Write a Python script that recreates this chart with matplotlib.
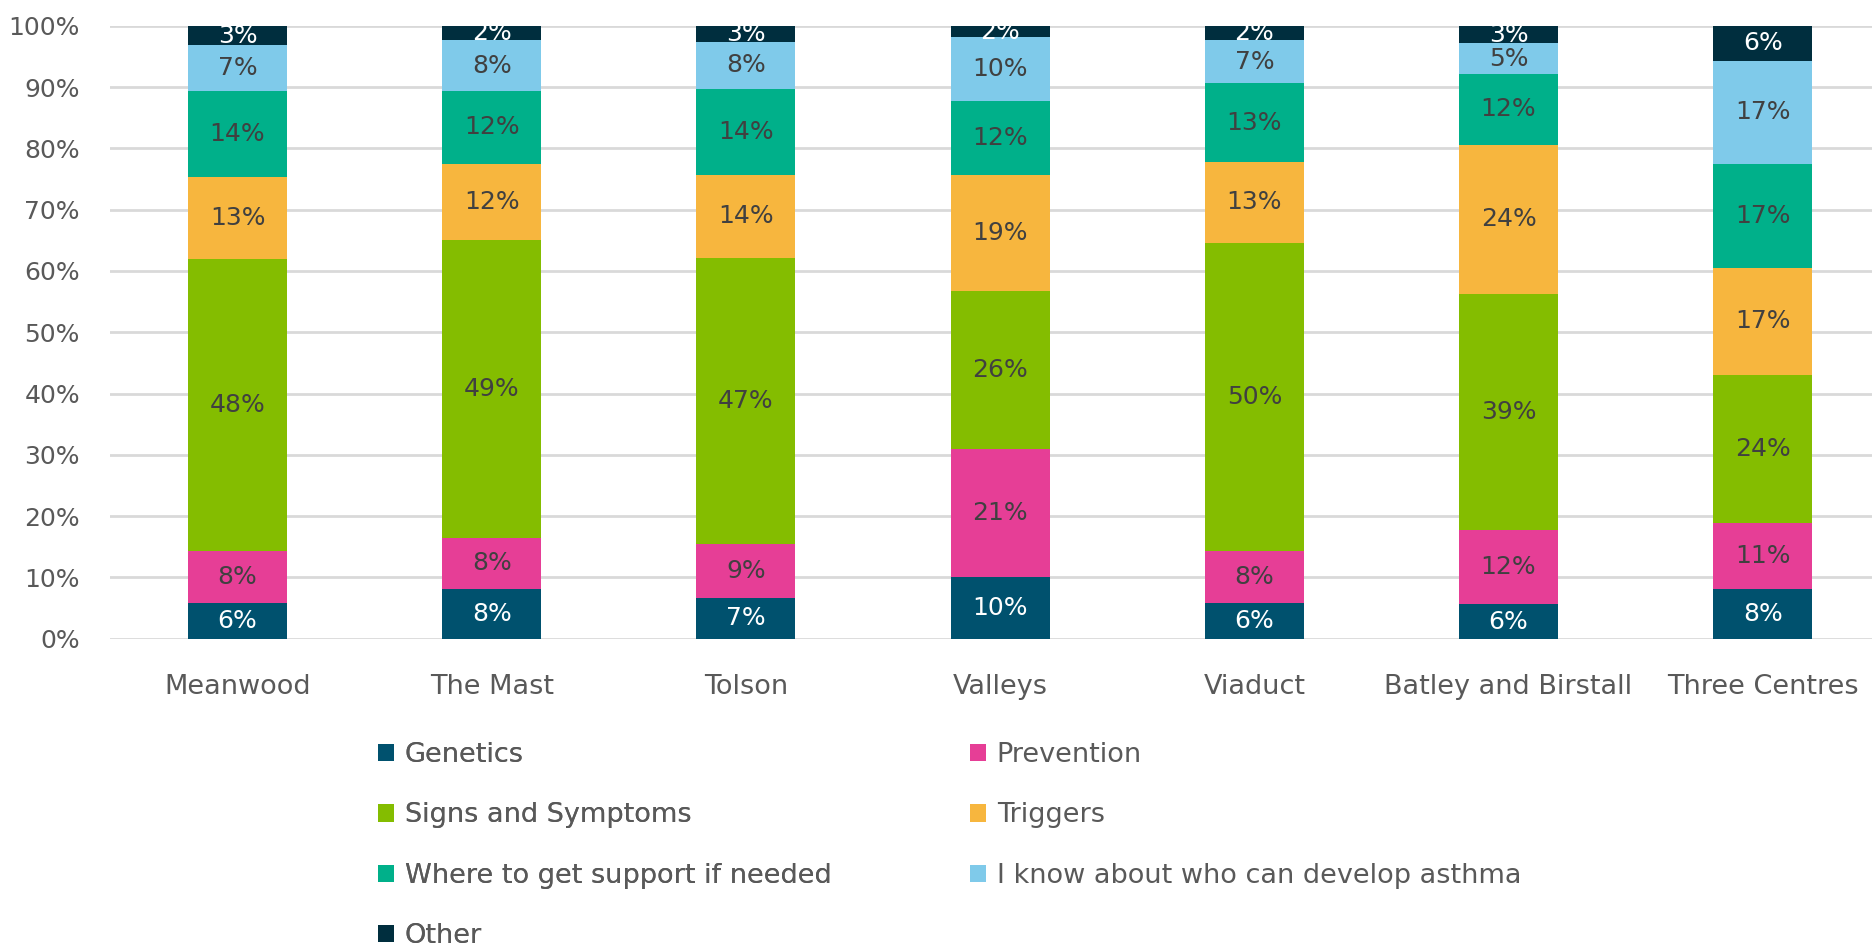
import numpy as np
import matplotlib.pyplot as plt
from matplotlib.patches import Patch

plt.rcParams['font.family'] = ['DejaVu Sans']

sites = ['Meanwood', 'The Mast', 'Tolson', 'Valleys', 'Viaduct', 'Batley and Birstall', 'Three Centres']
series = ['Genetics', 'Prevention', 'Signs and Symptoms', 'Triggers',
          'Where to get support if needed', 'I know about who can develop asthma', 'Other']

genetics   = [5.9, 8.2, 6.7, 10.1, 5.9, 5.6, 8.2]
prevention = [8.4, 8.2, 8.8, 20.9, 8.4, 12.1, 10.7]
signs      = [47.7, 48.7, 46.6, 25.7, 50.3, 38.6, 24.2]
triggers   = [13.3, 12.4, 13.6, 18.9, 13.2, 24.2, 17.4]
support    = [14.1, 11.8, 14.0, 12.1, 12.8, 11.7, 16.9]
who        = [7.4, 8.3, 7.7, 10.4, 7.0, 4.9, 16.9]
other      = [3.2, 2.4, 2.6, 1.9, 2.4, 2.9, 5.7]

colors = ['#00516E', '#E63E96', '#84BD00', '#F7B63E', '#00B08A', '#7FCAEA', '#002E3E']
label_colors = ['white', '#404040', '#404040', '#404040', '#404040', '#404040', 'white']

data = [genetics, prevention, signs, triggers, support, who, other]
fs = 18
fs_text = 19.5

fig = plt.figure(figsize=(18.72, 9.52), dpi=100)
ax = fig.add_axes([0.059, 0.329, 0.941, 0.644])

x = np.arange(len(sites))
bottom = np.zeros(len(sites))
for vals, name, c, lc in zip(data, series, colors, label_colors):
    vals = np.array(vals)
    bars = ax.bar(x, vals, 0.39, bottom=bottom, color=c, label=name, zorder=3)
    ax.bar_label(bars, labels=[f'{v:.0f}%' for v in vals], label_type='center',
                 color=lc, fontsize=fs, zorder=4)
    bottom += vals

ax.set_ylim(0, 100)
ax.set_xlim(-0.5, 6.43)
ax.set_yticks(np.arange(0, 101, 10))
ax.set_yticklabels([f'{v}%' for v in range(0, 101, 10)])
ax.set_xticks(x)
ax.set_xticklabels(sites)
ax.tick_params(axis='both', length=0, labelcolor='#595959')
ax.tick_params(axis='y', pad=22, labelsize=fs)
ax.tick_params(axis='x', pad=25, labelsize=fs_text)
ax.grid(axis='y', color='#D9D9D9', lw=2, zorder=0)
for s in ax.spines.values():
    s.set_visible(False)

handles = [Patch(facecolor=c, edgecolor='none') for c in colors]
col1 = [0, 2, 4, 6]
col2 = [1, 3, 5]
kw = dict(loc='upper left', frameon=False, fontsize=fs_text, labelcolor='#595959',
          handlelength=0.6, handleheight=0.6, handletextpad=0.4, labelspacing=1.27,
          borderaxespad=0, borderpad=0)
leg1 = fig.legend([handles[i] for i in col1], [series[i] for i in col1],
                  bbox_to_anchor=(0.2017, 0.2205), **kw)
fig.add_artist(leg1)
fig.legend([handles[i] for i in col2], [series[i] for i in col2],
           bbox_to_anchor=(0.518, 0.2205), **kw)

fig.savefig('out.png', dpi=100, facecolor='white')
